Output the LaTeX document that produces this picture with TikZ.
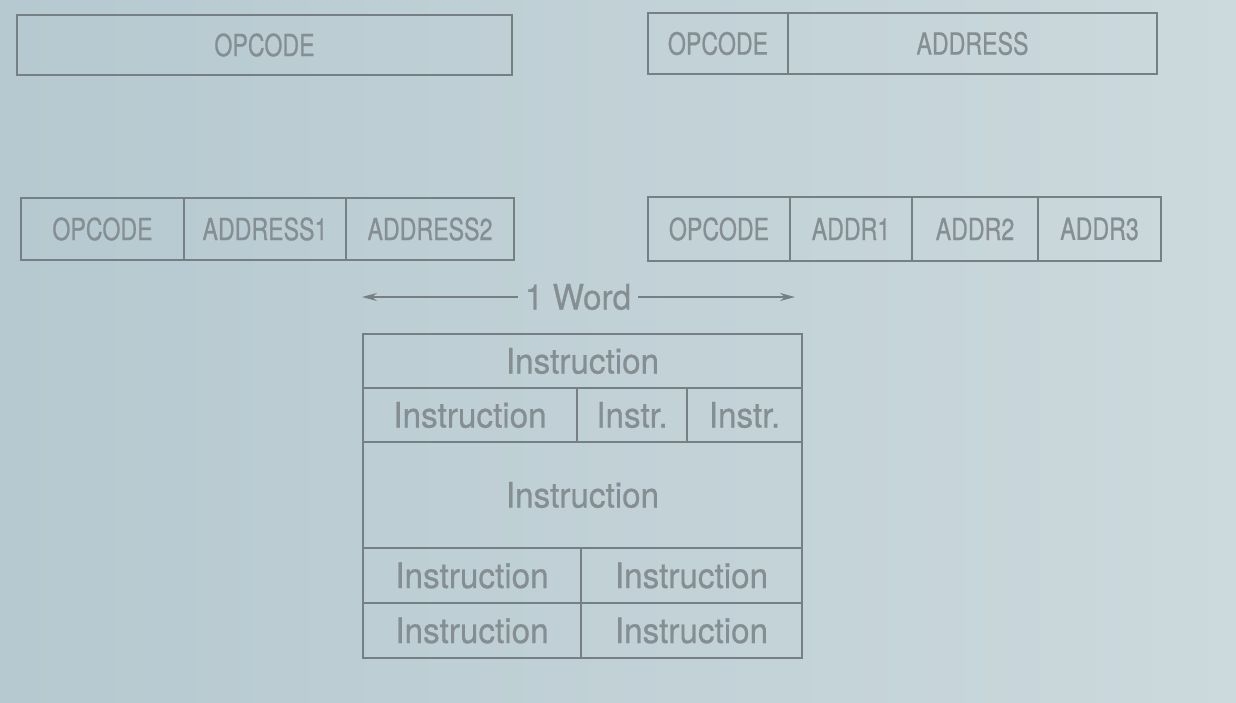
\documentclass[tikz,border=0pt]{standalone}
\usepackage{fontspec}
\setmainfont{TeX Gyre Heros}
\newfontfamily\fieldfont[FakeStretch=0.76,FakeBold=0.6]{TeX Gyre Heros}
\newfontfamily\wordfont[FakeStretch=0.95,FakeBold=0.6]{TeX Gyre Heros}
\usetikzlibrary{arrows.meta}

\definecolor{paperl}{RGB}{182,201,208}
\definecolor{paperr}{RGB}{204,217,221}
\definecolor{rule}{RGB}{118,127,131}
\definecolor{ink}{RGB}{132,142,147}

\tikzset{
	field/.style={draw=rule, line width=2pt, rectangle, inner sep=0pt, outer sep=0pt,
		anchor=north west, text=ink, font=\fieldfont\fontsize{30.5}{36}\selectfont},
	cell/.style={field, font=\wordfont\fontsize{35}{42}\selectfont},
	conn/.style={draw=rule, line width=1.5pt, -{Stealth[length=15pt,width=8pt]}}
}

\begin{document}
\begin{tikzpicture}[x=1pt,y=-1pt]
			\shade[left color=paperl, right color=paperr] (0,0) rectangle (1236,702);
			\useasboundingbox (0,0) rectangle (1236,702);
			% zero-address
			\node[field, minimum width=495, minimum height=60] (zop) at (17,15) {OPCODE};
			% one-address
			\node[field, minimum width=140, minimum height=61] (oop) at (648,13) {OPCODE};
			\node[field, minimum width=369, minimum height=61] (oad) at (oop.north east) {ADDRESS};
			% two-address
			\node[field, minimum width=163, minimum height=62] (top) at (21,198) {OPCODE};
			\node[field, minimum width=162, minimum height=62] (tad1) at (top.north east) {ADDRESS1};
			\node[field, minimum width=168, minimum height=62] (tad2) at (tad1.north east) {ADDRESS2};
			% three-address
			\node[field, minimum width=142, minimum height=64] (hop) at (648,197) {OPCODE};
			\node[field, minimum width=122, minimum height=64] (had1) at (hop.north east) {ADDR1};
			\node[field, minimum width=126, minimum height=64] (had2) at (had1.north east) {ADDR2};
			\node[field, minimum width=123, minimum height=64] (had3) at (had2.north east) {ADDR3};
			% word width
			\coordinate (wl) at (362,297);
			\coordinate (wr) at (795,297);
			\node[text=ink, font=\wordfont\fontsize{35}{42}\selectfont, inner sep=7pt] (word) at (578,297) {1 Word};
			\draw[conn] (word) -- (wl);
			\draw[conn] (word) -- (wr);
			% packing of instructions into words
			\node[cell, minimum width=439, minimum height=54] (ia) at (363,334) {Instruction};
			\node[cell, minimum width=214, minimum height=54] (iba) at (ia.south west) {Instruction};
			\node[cell, minimum width=110, minimum height=54] (ibb) at (iba.north east) {Instr.};
			\node[cell, minimum width=115, minimum height=54] (ibc) at (ibb.north east) {Instr.};
			\node[cell, minimum width=439, minimum height=106] (ic) at (iba.south west) {Instruction};
			\node[cell, minimum width=218, minimum height=55] (ida) at (ic.south west) {Instruction};
			\node[cell, minimum width=221, minimum height=55] (idb) at (ida.north east) {Instruction};
			\node[cell, minimum width=218, minimum height=55] (iea) at (ida.south west) {Instruction};
			\node[cell, minimum width=221, minimum height=55] (ieb) at (iea.north east) {Instruction};
		\end{tikzpicture}
\end{document}
